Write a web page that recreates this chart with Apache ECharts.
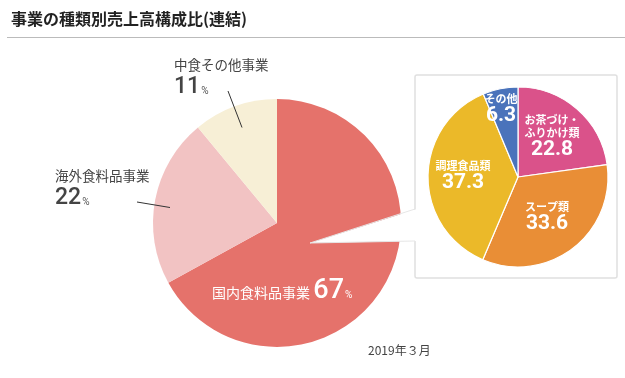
<!DOCTYPE html>
<html><head><meta charset="utf-8">
<script src="https://cdn.jsdelivr.net/npm/echarts@6/dist/echarts.min.js"></script>
<style>html,body{margin:0;padding:0;background:#fff}#c{width:625px;height:378px}</style>
</head><body><div id="c"></div>
<script>
// ---- data ----
const mainNames = ['国内食料品事業', '海外食料品事業', '中食その他事業'];
const mainValues = [67, 22, 11];
const subNames = ['お茶づけ・\nふりかけ類', 'スープ類', '調理食品類', 'その他'];
const subValues = [22.8, 33.6, 37.3, 6.3];
const titleText = '事業の種類別売上高構成比(連結)';
const dateText = '2019年３月';

// ---- styles / layout ----
const mainColors = ['#E5726B', '#F2C3C3', '#F7EFD6'];
const subColors = ['#DA528A', '#E98E36', '#EBB929', '#4A73BB'];
const mainLabelPos = [
  { x: 212, y: 291, align: 'left', verticalAlign: 'middle' },
  { x: 55, y: 167, align: 'left', verticalAlign: 'top' },
  { x: 174, y: 56, align: 'left', verticalAlign: 'top' }
];
const subLabelPos = [[552, 137], [547, 217], [463, 176], [501, 109]];

const CJK = "'Noto Sans CJK JP', sans-serif";
const NUM = "Roboto, 'Noto Sans CJK JP', sans-serif";

const chart = echarts.init(document.getElementById('c'), null, { renderer: 'canvas' });

const mainData = mainNames.map((n, i) => ({
  name: n, value: mainValues[i],
  itemStyle: { color: mainColors[i] },
  label: i === 0 ? {
    formatter: '{n|{b}} {v|{c}}{p|%}',
    rich: {
      n: { fontFamily: CJK, fontSize: 14, color: '#fff', lineHeight: 28, padding: [4, 0, 0, 0] },
      v: { fontFamily: NUM, fontSize: 27, fontWeight: 500, color: '#fff', lineHeight: 28 },
      p: { fontFamily: NUM, fontSize: 10, color: '#fff', lineHeight: 28, padding: [8, 0, 0, 1] }
    }
  } : {
    formatter: '{n|{b}}\n{v|{c}}{p|%}',
    rich: {
      n: { fontFamily: CJK, fontSize: 13.5, color: '#444', lineHeight: 18 },
      v: { fontFamily: NUM, fontSize: 23, fontWeight: 500, color: '#444', lineHeight: 26 },
      p: { fontFamily: NUM, fontSize: 10, color: '#555', lineHeight: 26, padding: [8, 0, 0, 1] }
    }
  }
}));

const subData = subNames.map((n, i) => ({
  name: n, value: subValues[i], itemStyle: { color: subColors[i] }
}));

chart.setOption({
  animation: false,
  title: [
    { text: titleText, left: 6, top: 6, textStyle: { fontFamily: CJK, fontSize: 16, fontWeight: 'bold', color: '#222' } },
    { text: dateText, left: 363, top: 339, textStyle: { fontFamily: CJK, fontSize: 12, fontWeight: 'normal', color: '#444' } }
  ],
  graphic: [
    { type: 'line', z: 100, shape: { x1: 7, y1: 37.5, x2: 625, y2: 37.5 }, style: { stroke: '#bbb', lineWidth: 1 } },
    { type: 'line', z: 100, shape: { x1: 137, y1: 202, x2: 170, y2: 207.5 }, style: { stroke: '#333', lineWidth: 1 } },
    { type: 'line', z: 100, shape: { x1: 228, y1: 91, x2: 242, y2: 127.5 }, style: { stroke: '#333', lineWidth: 1 } },
    { type: 'rect', z: 90, shape: { x: 415, y: 75, width: 202, height: 203, r: 2 }, style: { fill: 'none', stroke: '#e0e0e0', lineWidth: 1.5 } },
    { type: 'polygon', z: 95, shape: { points: [[310, 243], [417, 209], [417, 241]] }, style: { fill: '#fff' } },
    { type: 'polyline', z: 96, shape: { points: [[310, 243], [415, 209]] }, style: { stroke: '#e6e6e6', lineWidth: 1, fill: 'none' } },
    { type: 'polyline', z: 96, shape: { points: [[310, 243], [415, 241]] }, style: { stroke: '#e6e6e6', lineWidth: 1, fill: 'none' } }
  ],
  series: [
    {
      type: 'pie', center: [277, 223], radius: 124, startAngle: 90, clockwise: true,
      silent: true, z: 2,
      label: { show: true, position: 'outside' },
      labelLine: { show: false },
      labelLayout: function (p) {
        return Object.assign({}, mainLabelPos[p.dataIndex]);
      },
      data: mainData
    },
    {
      type: 'pie', center: [518, 177], radius: 90, startAngle: 90, clockwise: true,
      silent: true, z: 120,
      itemStyle: { borderColor: '#fff', borderWidth: 1.2 },
      label: {
        show: true, position: 'inside',
        formatter: '{n|{b}}\n{v|{c}}',
        rich: {
          n: { fontFamily: CJK, fontSize: 11, fontWeight: 'bold', color: '#fff', lineHeight: 13, align: 'center' },
          v: { fontFamily: NUM, fontSize: 21, fontWeight: 'bold', color: '#fff', lineHeight: 21, align: 'center' }
        }
      },
      labelLine: { show: false },
      labelLayout: function (p) {
        const q = subLabelPos[p.dataIndex];
        return { x: q[0], y: q[1], align: 'center', verticalAlign: 'middle' };
      },
      data: subData
    }
  ]
});
</script></body></html>
